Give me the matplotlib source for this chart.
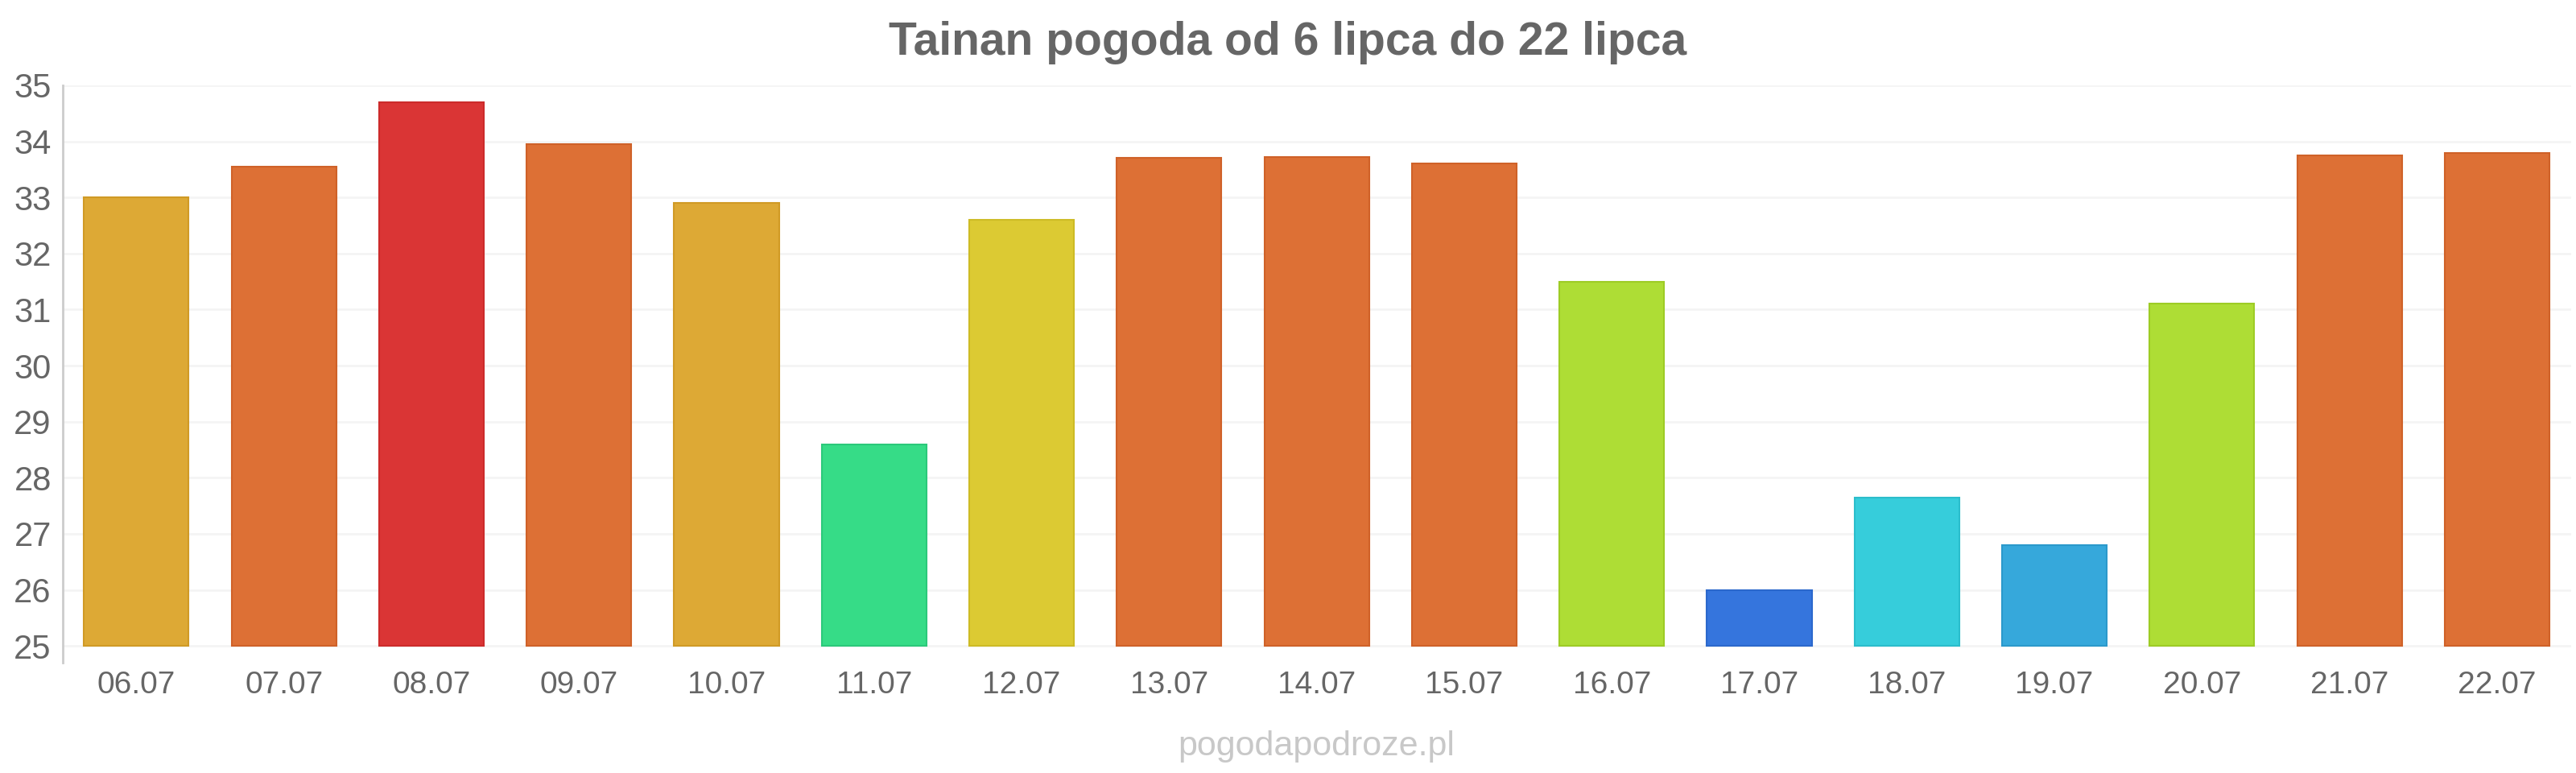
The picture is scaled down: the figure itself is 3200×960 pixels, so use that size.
import matplotlib
matplotlib.use("Agg")
import matplotlib.pyplot as plt
from matplotlib import font_manager as fm

dates = ["06.07", "07.07", "08.07", "09.07", "10.07", "11.07", "12.07", "13.07", "14.07",
         "15.07", "16.07", "17.07", "18.07", "19.07", "20.07", "21.07", "22.07"]
temps = [33.0, 33.55, 34.7, 33.95, 32.9, 28.6, 32.6, 33.7, 33.72,
         33.6, 31.5, 26.0, 27.65, 26.8, 31.1, 33.75, 33.8]
colors = ["#DDA935", "#DD7035", "#DA3535", "#DD7035", "#DDA935", "#36DC87", "#DCCA33",
          "#DD7035", "#DD7035", "#DD7035", "#AEDD35", "#3575DD", "#36CDDB", "#36A8DB",
          "#AEDD35", "#DD7035", "#DD7035"]
edge_colors = ["#D09A25", "#CF6128", "#CC2B2B", "#CF6128", "#D09A25", "#2BC97A", "#CDBB25",
               "#CF6128", "#CF6128", "#CF6128", "#9DCC25", "#2B68CC", "#2BBDCB", "#2B99CB",
               "#9DCC25", "#CF6128", "#CF6128"]
yticks = [25, 26, 27, 28, 29, 30, 31, 32, 33, 34, 35]
title = "Tainan pogoda od 6 lipca do 22 lipca"
watermark = "pogodapodroze.pl"

names = {f.name for f in fm.fontManager.ttflist}
narrow = "Liberation Sans Narrow" if "Liberation Sans Narrow" in names else None

fig = plt.figure(figsize=(32, 9.6), dpi=100)
ax = fig.add_axes([0.0243, 0.1427, 0.9737, 0.7469])

base = yticks[0]
x = list(range(len(dates)))
ax.bar(x, [t - base for t in temps], bottom=base, width=0.71, color=colors,
       edgecolor=edge_colors, linewidth=1.5, zorder=3)

ax.set_xlim(-0.5, len(dates) - 0.5)
ax.set_ylim(24.7, 35)
ax.set_yticks(yticks)
ax.set_xticks(x)
ax.set_xticklabels(dates)

for yt in yticks:
    ax.axhline(yt, color="#f4f4f4", linewidth=2, zorder=1)

for s in ["top", "right", "bottom"]:
    ax.spines[s].set_visible(False)
ax.spines["left"].set_color("#cccccc")
ax.spines["left"].set_linewidth(2)

xsize = 31 if narrow else 28
ax.tick_params(axis="x", length=0, pad=7, labelsize=xsize, labelcolor="#666666")
ax.tick_params(axis="y", length=0, pad=10, labelsize=30, labelcolor="#666666")
fam = narrow if narrow else "Liberation Sans"
for lab in ax.get_xticklabels() + ax.get_yticklabels():
    lab.set_fontfamily(fam)

fig.text(0.5, 0.945, title, ha="center", va="center", fontsize=41, fontweight="bold",
         color="#666666", family="Liberation Sans")
fig.text(0.511, 0.034, watermark, ha="center", va="center", fontsize=31,
         color="#c8c8c8", family="Liberation Sans")

fig.savefig("out.png", dpi=100, facecolor="white")
